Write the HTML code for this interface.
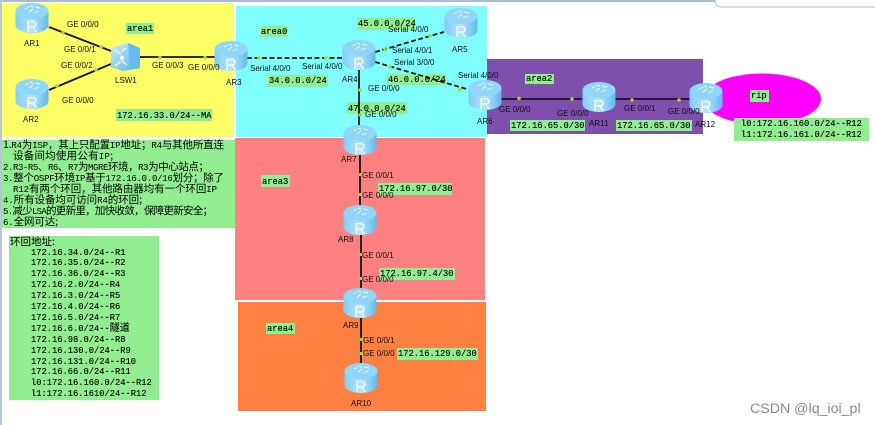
<!DOCTYPE html>
<html><head><meta charset="utf-8"><style>
html,body{margin:0;padding:0;background:#fff;width:875px;height:425px;overflow:hidden}
svg{display:block;filter:blur(.3px)}
.p{font:8px "Liberation Sans",sans-serif;fill:#111}
.n{font:8px "Liberation Sans",sans-serif;fill:#111}
.m{font:8.75px "Liberation Mono",monospace;fill:#000;stroke:#000;stroke-width:.12}
.c{font:9px "Liberation Mono","Noto Sans CJK SC",monospace;fill:#000}
.c tspan{font-family:"Noto Sans CJK SC",sans-serif;font-size:10.5px;fill:#000}
.r{font:16px "Liberation Sans",sans-serif;fill:#fff;text-anchor:middle}
.lb{fill:#90ee90}
</style></head><body>
<svg width="875" height="425" viewBox="0 0 875 425" xmlns="http://www.w3.org/2000/svg">
<defs>
<linearGradient id="g" x1="0" x2="1" y1="0" y2="0"><stop offset="0" stop-color="#7fcdf5"/><stop offset=".5" stop-color="#b5e6fd"/><stop offset="1" stop-color="#5fb8ee"/></linearGradient>
<linearGradient id="s" x1="0" x2="1" y1="0" y2="1"><stop offset="0" stop-color="#cdeffd"/><stop offset="1" stop-color="#4fb0ea"/></linearGradient>
<g id="rt">
<path d="M-16.5-7V7C-16.5 11.5-9 15 0 15S16.500 11.500 16.500 7V-7Z" fill="url(#g)"/>
<ellipse cx="0" cy="-7" rx="16.500" ry="8" fill="#8fd6fa"/>
<path d="M-7-9l4-2 M-3-6l4-3 M3-11l5 1 M2-5l5-2 M-2-12l3 1" stroke="#e8f8ff" stroke-width="1.200" fill="none"/>
</g>
</defs>
<rect x="0" y="0" width="716" height="2" fill="#a9bcd6"/>
<rect x="0" y="0" width="2" height="425" fill="#b4c5dc"/>
<path d="M715 0q0 7 7 7H875" fill="none" stroke="#cfcfcf" stroke-width="1.500"/>
<rect x="2" y="3" width="232" height="134" fill="#ffff66"/>
<rect x="487" y="59" width="216" height="75" fill="#7f4fae"/>
<rect x="236" y="6" width="251" height="131" fill="#80ffff"/>
<rect x="235" y="138" width="250" height="162" fill="#ff8080"/>
<rect x="238" y="302" width="248" height="109" fill="#ff8040"/>
<ellipse cx="762" cy="99" rx="59" ry="25.500" fill="#ff00ff"/>

<rect x="126" y="23" width="28" height="11" class="lb"/><text x="127" y="31" class="m">area1</text>
<rect x="116" y="109" width="96" height="12" class="lb"/><text x="117" y="118" class="m">172.16.33.0/24--MA</text>
<rect x="260" y="26" width="28" height="11" class="lb"/><text x="261" y="34" class="m">area0</text>
<rect x="357" y="18" width="58" height="12" class="lb"/><text x="358" y="26" class="m">45.0.0.0/24</text>
<rect x="268" y="75" width="60" height="12" class="lb"/><text x="269" y="83" class="m">34.0.0.0/24</text>
<rect x="387" y="74" width="59" height="11" class="lb"/><text x="388" y="82" class="m">46.0.0.0/24</text>
<rect x="347" y="102" width="60" height="12" class="lb"/><text x="348" y="111" class="m">47.0.0.0/24</text>
<rect x="525" y="74" width="29" height="10" class="lb"/><text x="526" y="81" class="m">area2</text>
<rect x="510" y="120" width="75" height="11" class="lb"/><text x="511" y="128" class="m">172.16.65.0/30</text>
<rect x="616" y="120" width="76" height="11" class="lb"/><text x="617" y="128" class="m">172.16.65.0/30</text>
<rect x="750" y="90" width="19" height="12" class="lb"/><text x="751" y="98" class="m">rip</text>
<rect x="734" y="118" width="135" height="23" class="lb"/>
<text x="741" y="126" class="m">l0:172.16.160.0/24--R12</text><text x="741" y="137" class="m">l1:172.16.161.0/24--R12</text>
<rect x="261" y="175" width="29" height="12" class="lb"/><text x="262" y="184" class="m">area3</text>
<rect x="378" y="183" width="74" height="12" class="lb"/><text x="379" y="191" class="m">172.16.97.0/30</text>
<rect x="379" y="268" width="76" height="12" class="lb"/><text x="380" y="276" class="m">172.16.97.4/30</text>
<rect x="266" y="323" width="29" height="11" class="lb"/><text x="267" y="331" class="m">area4</text>
<rect x="397" y="348" width="81" height="12" class="lb"/><text x="398" y="356" class="m">172.16.129.0/30</text>

<g stroke="#14140c" stroke-width="1.800" fill="none">
<path d="M49 27L111 51M49 90L111 64M140 57H220"/>
<path d="M359 60V132M360 150V210M361 232V295M361 315V370M486 99H700" stroke="#1a141a"/>
<path d="M247 58H345M375 52L444 32M375 62L470 90" stroke-dasharray="5 2.500"/>
</g>
<g fill="#9adf2a">
<circle cx="63" cy="32.500" r="1.800"/><circle cx="101" cy="47" r="1.800"/><circle cx="96" cy="70" r="1.800"/><circle cx="57" cy="86" r="1.800"/><circle cx="160" cy="57.500" r="1.800"/><circle cx="205" cy="57.500" r="1.800"/>
<circle cx="259" cy="58" r="1.800"/><circle cx="326" cy="58" r="1.800"/><circle cx="385" cy="49.500" r="1.800"/><circle cx="430" cy="36" r="1.800"/><circle cx="390" cy="67" r="1.800"/><circle cx="460" cy="90" r="1.800"/>
<circle cx="360" cy="90" r="1.800"/><circle cx="360" cy="115" r="1.800"/>
<circle cx="519" cy="98.500" r="1.800"/><circle cx="572" cy="99" r="1.800"/><circle cx="632" cy="100" r="1.800"/><circle cx="679" cy="100" r="1.800"/>
<rect x="359" y="173" width="3" height="3"/><rect x="359" y="193" width="3" height="3"/><rect x="359" y="253" width="3" height="3"/><rect x="359" y="277" width="3" height="3"/><rect x="360" y="338" width="3" height="3"/><rect x="360" y="352" width="3" height="3"/>
</g>

<rect x="2" y="140" width="233" height="88" class="lb"/>
<g class="c">
<text x="3" y="148" textLength="221"><tspan>1.</tspan>R4<tspan>为</tspan>ISP<tspan>，其上只配置</tspan>IP<tspan>地址；</tspan>R4<tspan>与其他所直连</tspan></text>
<text x="13" y="159" textLength="100"><tspan>设备间均使用公有</tspan>IP<tspan>;</tspan></text>
<text x="3" y="170" textLength="206">2.R3-R5<tspan>、</tspan>R6<tspan>、</tspan>R7<tspan>为</tspan>MGRE<tspan>环境，</tspan>R3<tspan>为中心站点；</tspan></text>
<text x="3" y="181" textLength="221">3.<tspan>整个</tspan>OSPF<tspan>环境</tspan>IP<tspan>基于</tspan>172.16.0.0/16<tspan>划分；除了</tspan></text>
<text x="13" y="192" textLength="204">R12<tspan>有两个环回，其他路由器均有一个环回</tspan>IP</text>
<text x="3" y="203" textLength="139">4.<tspan>所有设备均可访问</tspan>R4<tspan>的环回;</tspan></text>
<text x="3" y="214" textLength="210">5.<tspan>减少</tspan>LSA<tspan>的更新里，加快收敛，保障更新安全；</tspan></text>
<text x="3" y="225" textLength="55">6.<tspan>全网可达;</tspan></text>
</g>

<rect x="9" y="236" width="150" height="164" class="lb"/>
<text x="10" y="245" class="c"><tspan>环回地址:</tspan></text>
<g class="m">
<text x="31" y="255">172.16.34.0/24--R1</text>
<text x="31" y="265">172.16.35.0/24--R2</text>
<text x="31" y="276">172.16.36.0/24--R3</text>
<text x="31" y="287">172.16.2.0/24--R4</text>
<text x="31" y="298">172.16.3.0/24--R5</text>
<text x="31" y="309">172.16.4.0/24--R6</text>
<text x="31" y="320">172.16.5.0/24--R7</text>
<text x="31" y="331">172.16.6.0/24--<tspan style="font-family:'Noto Sans CJK SC',sans-serif;font-size:10px">隧道</tspan></text>
<text x="31" y="342">172.16.98.0/24--R8</text>
<text x="31" y="353">172.16.130.0/24--R9</text>
<text x="31" y="364">172.16.131.0/24--R10</text>
<text x="31" y="374">172.16.66.0/24--R11</text>
<text x="31" y="385">l0:172.16.160.0/24--R12</text>
<text x="31" y="396">l1:172.16.1610/24--R12</text>
</g>

<use href="#rt" x="32" y="18"/><text x="32" y="32" class="r">R</text>
<use href="#rt" x="32" y="94"/><text x="32" y="108" class="r">R</text>
<use href="#rt" x="231" y="56"/><text x="231" y="70" class="r">R</text>
<use href="#rt" x="359" y="55"/><text x="359" y="69" class="r">R</text>
<use href="#rt" x="461" y="23"/><text x="461" y="37" class="r">R</text>
<use href="#rt" x="485" y="95"/><text x="485" y="109" class="r">R</text>
<use href="#rt" x="599" y="97"/><text x="599" y="111" class="r">R</text>
<use href="#rt" x="706" y="98"/><text x="706" y="112" class="r">R</text>
<use href="#rt" x="360" y="140"/><text x="360" y="154" class="r">R</text>
<use href="#rt" x="360" y="220"/><text x="360" y="234" class="r">R</text>
<use href="#rt" x="360" y="303"/><text x="360" y="317" class="r">R</text>
<use href="#rt" x="361" y="378"/><text x="361" y="392" class="r">R</text>
<path d="M111 48l17-5 12 5v20l-17 3-12-4Z" fill="url(#s)"/>
<path d="M128 43l12 5v20l-10 2Z" fill="#63bdf0"/>
<path d="M115 50l6 4M126 48l-5 4M115 66l6-5M127 65l-5-4" stroke="#fff" stroke-width="1.300" fill="none"/>
<circle cx="122" cy="58" r="2.200" fill="#fff"/>

<g class="n">
<text x="24" y="46">AR1</text><text x="23" y="122">AR2</text><text x="115" y="83">LSW1</text><text x="226" y="85">AR3</text>
<text x="342" y="82">AR4</text><text x="452" y="52">AR5</text><text x="477" y="124">AR6</text><text x="589" y="126">AR11</text><text x="695" y="127">AR12</text>
<text x="341" y="162">AR7</text><text x="338" y="242">AR8</text><text x="343" y="328">AR9</text><text x="351" y="406">AR10</text>
</g>
<g class="p">
<text x="67" y="27">GE 0/0/0</text><text x="64" y="52">GE 0/0/1</text><text x="61" y="68">GE 0/0/2</text><text x="62" y="103">GE 0/0/0</text>
<text x="152" y="68">GE 0/0/3</text><text x="188" y="70">GE 0/0/0</text>
<text x="250" y="71">Serial 4/0/0</text><text x="302" y="69">Serial 4/0/0</text>
<text x="388" y="32">Serial 4/0/0</text><text x="392" y="53">Serial 4/0/1</text><text x="394" y="65">Serial 3/0/0</text><text x="458" y="78">Serial 4/0/0</text>
<text x="368" y="91">GE 0/0/0</text><text x="365" y="117">GE 0/0/0</text>
<text x="499" y="112">GE 0/0/0</text><text x="557" y="116">GE 0/0/0</text><text x="624" y="111">GE 0/0/1</text><text x="668" y="114">GE 0/0/0</text>
<text x="362" y="178">GE 0/0/1</text><text x="362" y="198">GE 0/0/0</text><text x="362" y="258">GE 0/0/1</text><text x="362" y="282">GE 0/0/0</text>
<text x="363" y="343">GE 0/0/1</text><text x="363" y="356">GE 0/0/0</text>
</g>
<text x="750" y="413" style="font:14.200px 'Liberation Sans',sans-serif;fill:#8a8a8a">CSDN @lq_ioi_pl</text>
</svg>
</body></html>
